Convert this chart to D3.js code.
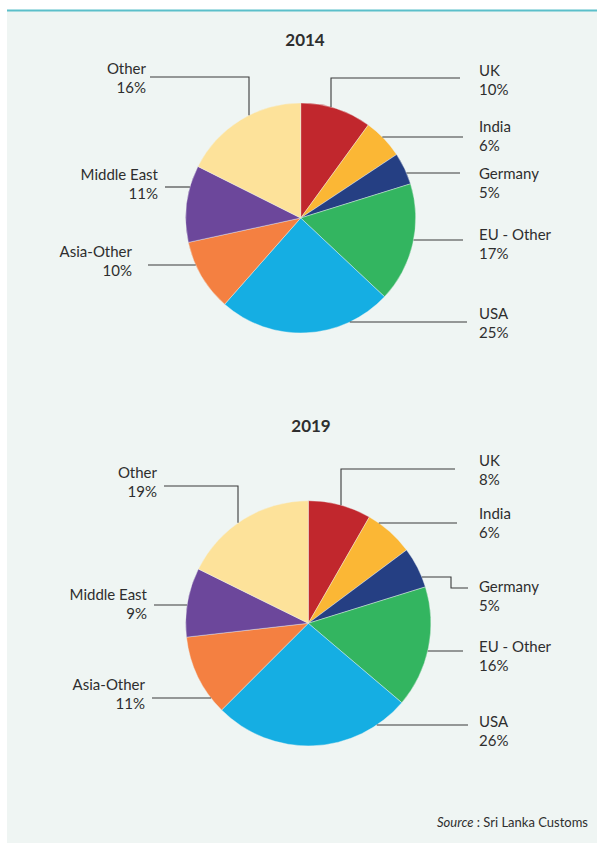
<!DOCTYPE html>
<html>
<head>
<meta charset="utf-8">
<script src="https://cdn.jsdelivr.net/npm/d3@7"></script>
<style>
  html, body { margin: 0; padding: 0; background: #fff; }
  svg { display: block; }
  text { font-family: Lato, "Liberation Sans", sans-serif; fill: #2e2e2e; }
</style>
</head>
<body>
<div id="chart"></div>
<script>
// regions, in clockwise order from 12 o'clock
const regions = ["UK", "India", "Germany", "EU - Other", "USA", "Asia-Other", "Middle East", "Other"];
const colors = ["#c1272d", "#fbb735", "#253f83", "#33b560", "#15aee3", "#f48041", "#6c479b", "#fde29a"];
const years = ["2014", "2019"];
// slice sizes as drawn (share of exports, %)
const share2014 = [10.0, 5.7, 4.5, 16.8, 24.5, 10.1, 10.8, 17.6];
const share2019 = [8.3, 6.5, 5.4, 16.0, 26.3, 10.7, 9.1, 17.7];
// percentages as printed in the labels
const label2014 = [10, 6, 5, 17, 25, 10, 11, 16];
const label2019 = [8, 6, 5, 16, 26, 11, 9, 19];

// label / leader layout for each pie (positions only)
const layout2014 = {
  cx: 300.7, cy: 218, r: 115, titleX: 305, titleY: 46,
  labels: [
    { side: "r", elbowX: 331, lineY: 78, endX: 460, textY: 76 },
    { side: "r", lineY: 137, endX: 463, textY: 132 },
    { side: "r", lineY: 173, endX: 460, textY: 179 },
    { side: "r", lineY: 240, endX: 463, textY: 240 },
    { side: "r", lineY: 322, endX: 467, textY: 319 },
    { side: "l", lineY: 265, endX: 148, textX: 132, textY: 257 },
    { side: "l", lineY: 187, endX: 165, textX: 158, textY: 180 },
    { side: "l", elbowX: 249, lineY: 77, endX: 150, textX: 146, textY: 74 }
  ]
};
const layout2019 = {
  cx: 308.3, cy: 623.3, r: 122.6, titleX: 311, titleY: 432,
  labels: [
    { side: "r", elbowX: 341, lineY: 469, endX: 455, textY: 466 },
    { side: "r", lineY: 523, endX: 457, textY: 519 },
    { side: "r", lineY: 577, stepX: 451, stepY: 588, endX: 468, textY: 592 },
    { side: "r", lineY: 651, endX: 463, textY: 652 },
    { side: "r", lineY: 725, endX: 468, textY: 727 },
    { side: "l", lineY: 698, endX: 152, textX: 145, textY: 690 },
    { side: "l", lineY: 605, endX: 154, textX: 147, textY: 600 },
    { side: "l", elbowX: 238, lineY: 486, endX: 164, textX: 157, textY: 478 }
  ]
};

const width = 597, height = 843;
const svg = d3.select("#chart").append("svg")
  .attr("width", width).attr("height", height);

svg.append("rect").attr("x", 7).attr("y", 11)
  .attr("width", width - 7).attr("height", height - 11)
  .attr("fill", "#eff5f3");
svg.append("rect").attr("x", 7).attr("y", 9.5)
  .attr("width", width - 7).attr("height", 2)
  .attr("fill", "#5bbfca");

const color = d3.scaleOrdinal().domain(regions).range(colors);
const pie = d3.pie().sort(null).value(d => d.value);

function drawPie(year, values, labels, lay) {
  const data = regions.map((name, i) => ({ name: name, value: values[i], label: labels[i] }));
  const arcs = pie(data);
  const arc = d3.arc().innerRadius(0).outerRadius(lay.r);

  svg.append("text")
    .attr("x", lay.titleX).attr("y", lay.titleY)
    .attr("text-anchor", "middle")
    .style("font-size", "17px").style("font-weight", 700)
    .text(year);

  const g = svg.append("g").attr("transform", "translate(" + lay.cx + "," + lay.cy + ")");
  g.selectAll("path")
    .data(arcs)
    .enter().append("path")
    .attr("d", arc)
    .attr("fill", d => color(d.data.name))
    .attr("stroke", "#eff5f3")
    .attr("stroke-width", 0.4);

  // leader lines: start on the circle edge
  arcs.forEach((a, i) => {
    const L = lay.labels[i];
    const sign = L.side === "r" ? 1 : -1;
    let pts;
    if (L.elbowX !== undefined) {
      const dx = L.elbowX - lay.cx;
      const y0 = lay.cy - Math.sqrt(lay.r * lay.r - dx * dx);
      pts = [[L.elbowX, y0], [L.elbowX, L.lineY], [L.endX, L.lineY]];
    } else {
      const dy = L.lineY - lay.cy;
      const x0 = lay.cx + sign * Math.sqrt(lay.r * lay.r - dy * dy);
      pts = [[x0, L.lineY]];
      if (L.stepX !== undefined) {
        pts.push([L.stepX, L.lineY], [L.stepX, L.stepY], [L.endX, L.stepY]);
      } else {
        pts.push([L.endX, L.lineY]);
      }
    }
    svg.append("path")
      .attr("d", d3.line()(pts))
      .attr("fill", "none")
      .attr("stroke", "#3a3a3a")
      .attr("stroke-width", 1.1);

    const tx = L.side === "r" ? 479 : L.textX;
    const anchor = L.side === "r" ? "start" : "end";
    const t = svg.append("text")
      .attr("text-anchor", anchor)
      .style("font-size", "15px");
    t.append("tspan").attr("x", tx).attr("y", L.textY).text(a.data.name);
    t.append("tspan").attr("x", tx).attr("y", L.textY + 19).text(a.data.label + "%");
  });
}

drawPie(years[0], share2014, label2014, layout2014);
drawPie(years[1], share2019, label2019, layout2019);

const src = svg.append("text")
  .attr("x", 588).attr("y", 827)
  .attr("text-anchor", "end")
  .style("font-size", "13px");
src.append("tspan").style("font-style", "italic").text("Source");
src.append("tspan").text(" : Sri Lanka Customs");
</script>
</body>
</html>
